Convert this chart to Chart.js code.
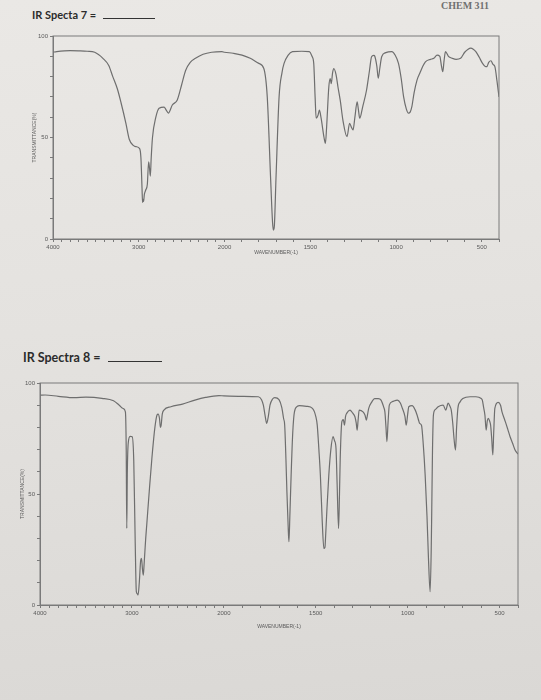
<!DOCTYPE html>
<html>
<head>
<meta charset="utf-8">
<script src="https://cdn.jsdelivr.net/npm/chart.js@4"></script>
<style>
  body { margin: 0; width: 541px; height: 700px; overflow: hidden;
         background: linear-gradient(175deg, #eae8e5 0%, #e4e2df 45%, #dad8d5 100%);
         position: relative; font-family: Lato, sans-serif; }
  .lbl { position: absolute; font-weight: bold; color: #2b2b2b; white-space: nowrap; }
  .blank { display: inline-block; border-bottom: 1px solid #333; vertical-align: baseline; margin-left: 4px; }
  .box { position: absolute; left: 0; }
</style>
</head>
<body>
<div class="lbl" style="left:441px;top:0px;font-family:'Liberation Serif',serif;font-size:10px;color:#707070;">CHEM 311</div>
<div class="lbl" style="left:32px;top:8px;font-size:11px;">IR Specta 7 = <span class="blank" style="width:52px;"></span></div>
<div class="lbl" style="left:23px;top:350px;font-size:12.5px;">IR Spectra 8 = <span class="blank" style="width:54px;"></span></div>
<div class="box" style="top:0;"><canvas id="ir7" width="541" height="270"></canvas></div>
<div class="box" style="top:340px;"><canvas id="ir8" width="541" height="300"></canvas></div>
<script>
// IR spectrum 7 (wavenumber cm-1, %T)
var wn7 = [4000,3957,3800,3700,3600,3514,3418,3350,3303,3250,3206,3150,3110,3060,3032,2990,2975,2962,2956,2950,2944,2935,2920,2900,2885,2875,2865,2855,2840,2801,2763,2705,2680,2655,2609,2551,2500,2454,2400,2339,2250,2150,2031,2000,1950,1898,1850,1800,1771,1751,1731,1720,1715,1710,1700,1682,1665,1653,1630,1604,1550,1506,1490,1480,1472,1466,1455,1447,1437,1420,1412,1405,1392,1384,1378,1370,1363,1350,1339,1325,1310,1286,1271,1260,1251,1240,1227,1220,1212,1195,1172,1155,1143,1130,1124,1112,1104,1095,1084,1060,1025,1005,986,970,956,940,928,918,908,895,878,860,845,829,800,780,761,745,735,728,720,712,695,672,650,624,600,580,565,550,535,515,496,480,471,460,447,435,424,412,400];
var t7 = [92,92.3,92.8,92.7,92.5,92,89,85.5,80,74,67,57,49,46,45.5,44.5,40,25,18,19.5,18.5,22,24,27,38,35,31,40,50,60,64.4,65,63.5,62,66,68.5,76,83,87,89,91,92,92.3,92,91.5,90.6,89,86.5,84,70,29,8,4.4,6,30,70,82,86.5,90.5,92.3,92.5,92.3,90,86.5,70,59.5,61,63.5,59.5,50,47.1,55,75,79,76.5,82,84,81,75,68,58.6,50.4,57,55,53.7,60,67.6,64,59.5,65,73.4,83,89.8,90.5,90,85,79.2,84,89.8,91.8,92.3,90.5,86.5,79,70,64,62,62.5,65.2,72,78.3,82,85,87.3,88.5,89,90.6,90,85,82.4,88,92.3,90,89,88.5,89,92,93.5,94,93.5,92.3,89.5,86.5,85,84.9,87,87.8,86,84.9,78,70];

// IR spectrum 8
var wn8 = [4000,3944,3800,3626,3500,3326,3200,3138,3095,3071,3062,3056,3050,3040,3020,2997,2980,2965,2952,2940,2933,2920,2905,2896,2885,2876,2868,2850,2839,2810,2783,2750,2727,2715,2700,2690,2682,2670,2652,2576,2450,2315,2200,2053,2000,1900,1812,1795,1785,1775,1767,1758,1749,1735,1723,1700,1685,1675,1669,1662,1657,1650,1646,1641,1634,1625,1616,1600,1589,1550,1518,1500,1492,1483,1475,1465,1456,1450,1447,1440,1429,1418,1406,1398,1390,1384,1376,1371,1367,1358,1350,1344,1338,1332,1314,1300,1287,1280,1275,1270,1264,1243,1232,1225,1218,1212,1195,1180,1160,1145,1130,1124,1118,1113,1107,1100,1083,1056,1040,1029,1015,1008,1000,994,976,960,949,940,935,925,915,905,895,887,878,872,869,865,860,850,834,807,793,780,770,763,755,748,740,734,727,715,700,660,629,600,594,587,580,573,567,561,555,549,543,537,532,526,508,495,487,475,469,455,443,430,416,400];
var t8 = [94.5,94.6,94,93.4,93.6,93.1,92,90,88.5,87,70,34.5,60,73,76,75.8,65,30,6,5,4.5,10,20,21,16,13.5,18,30,36,52,66,80,85.6,86,84,80,81,86,87.8,89.3,90.5,92.3,93.5,94.3,94.2,94,93.8,92.5,90,85,81.8,85,90,92.8,93.4,92.5,89,84,81,65,51,35,28.5,40,58.6,78,87,89.5,89.8,89.5,88.6,85,81,70,58.6,38,25.5,26,30,42,58.6,70,75.8,74,70.6,55,34.5,50,66,82.6,83.5,81,85,86.3,87.8,86.5,84.8,82,78.8,83,87.8,87,85.5,83.3,86,88.6,91.5,93,93,92.3,89,87,80,73.6,82,90,91.6,92.3,91,88.6,85,81,86,89.3,89.8,88,85.6,83,81.8,81,72,58.6,40,21,6,25,43.6,70,85.6,88,89.3,90,87.8,90.9,89.5,87.8,82,75,69.8,80,88.6,91.5,93,93.8,93.8,93,92.3,89,85.6,78.8,83,84.1,83,81,75,67.6,78,88.6,91.3,90,87,84,82.6,79,75.8,73,69.8,68];

var tickWn = [];
for (var w = 4000; w >= 400; w -= 100) tickWn.push(w);
var labelWn = [4000, 3000, 2000, 1500, 1000, 500];
var yTicks = [0, 50, 100];

// spectrometer chart paper: 4000-2000 at half the scale of 2000-400
function toU(w) { return w >= 2000 ? (4000 - w) / 2 : 1000 + (2000 - w); }
function fromU(u) { return u <= 1000 ? 4000 - 2 * u : 2000 - (u - 1000); }

var frame = {
  id: 'frame',
  afterDraw: function(chart) {
    var a = chart.chartArea, ctx = chart.ctx;
    ctx.save();
    ctx.strokeStyle = '#7a7a7a';
    ctx.lineWidth = 1;
    ctx.strokeRect(a.left, a.top, a.right - a.left, a.bottom - a.top);
    ctx.restore();
  }
};

function makeChart(id, wns, ts, pad, yWidth, xHeight, xTitleBottom) {
  var pts = wns.map(function(w, i) { return {x: toU(w), y: ts[i]}; });
  return new Chart(document.getElementById(id), {
    type: 'line',
    data: { datasets: [{ data: pts, borderColor: '#6e6e6e', borderWidth: 1.2,
      pointRadius: 0, cubicInterpolationMode: 'monotone', fill: false }] },
    options: {
      responsive: false, animation: false,
      layout: { padding: pad },
      plugins: { legend: { display: false }, tooltip: { enabled: false } },
      scales: {
        x: {
          type: 'linear', min: 0, max: toU(400),
          afterBuildTicks: function(s) { s.ticks = tickWn.map(function(w) { return {value: toU(w)}; }); },
          afterFit: function(s) { s.height = xHeight; },
          ticks: { autoSkip: false, maxRotation: 0, padding: 2, color: '#5a5a5a', font: { size: 6 },
            callback: function(v) { var w = Math.round(fromU(v)); return labelWn.indexOf(w) >= 0 ? String(w) : ''; } },
          grid: { drawOnChartArea: false, tickLength: 3, tickColor: '#7a7a7a' },
          border: { color: '#7a7a7a' },
          title: { display: true, text: 'WAVENUMBER(-1)', color: '#5a5a5a', font: { size: 5 }, padding: { top: 0, bottom: xTitleBottom } }
        },
        y: {
          min: 0, max: 100,
          afterFit: function(s) { s.width = yWidth; },
          ticks: { stepSize: 10, padding: 2, color: '#5a5a5a', font: { size: 6 },
            callback: function(v) { return yTicks.indexOf(v) >= 0 ? String(v) : ''; } },
          grid: { drawOnChartArea: false, tickLength: 3, tickColor: '#7a7a7a' },
          border: { color: '#7a7a7a' },
          title: { display: true, text: 'TRANSMITTANCE(%)', color: '#5a5a5a', font: { size: 5 }, padding: 0 }
        }
      }
    },
    plugins: [frame]
  });
}

makeChart('ir7', wn7, t7, { left: 32, right: 42, top: 36, bottom: 0 }, 21, 31, 14);
makeChart('ir8', wn8, t8, { left: 20, right: 23, top: 43, bottom: 0 }, 20, 35, 10);
</script>
</body>
</html>
